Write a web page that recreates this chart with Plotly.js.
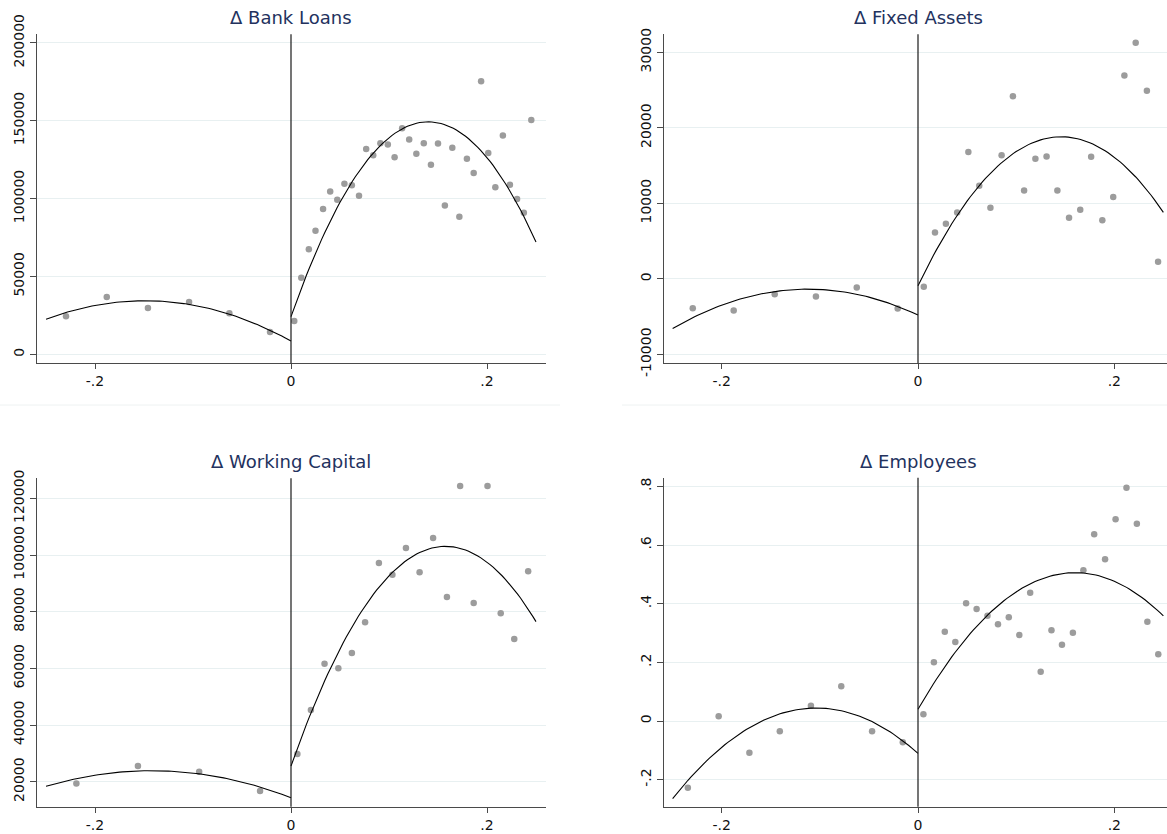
<!DOCTYPE html>
<html><head><meta charset="utf-8">
<script src="https://cdn.plot.ly/plotly-3.0.1.min.js"></script>
<style>html,body{margin:0;padding:0;background:#fff}#chart{width:1167px;height:834px}</style>
</head><body><div id="chart"></div>
<script>
// ---------- data (binned means) ----------
const panelTitles = ['\u0394 Bank Loans', '\u0394 Fixed Assets', '\u0394 Working Capital', '\u0394 Employees'];

const xTickVals = [-0.2, 0, 0.2];
const xTickText = ['-.2', '0', '.2'];

const bankLeftX = [-0.2296, -0.188, -0.146, -0.104, -0.0629, -0.0214];
const bankLeftY = [24400, 36800, 29700, 33600, 26300, 14300];
const bankRightX = [0.0033,0.0105,0.0182,0.025,0.0327,0.04,0.0472,0.0545,0.0621,0.0694,0.0767,0.0839,0.0912,0.0988,0.1057,0.1134,0.1206,0.1279,0.1355,0.1428,0.150,0.157,0.1646,0.1718,0.1795,0.1864,0.194,0.2013,0.2085,0.2162,0.2234,0.2307,0.2376,0.2452];
const bankRightY = [21400,49200,67400,79400,93300,104600,99300,109500,108500,101800,131800,127900,135600,134800,126600,145200,138000,128800,135600,121700,135400,95600,132600,88300,125600,116400,175400,129200,107200,140500,108900,99700,90900,150400];
const bankTickVals = [0, 50000, 100000, 150000, 200000];
const bankTickText = ['0', '50000', '100000', '150000', '200000'];

const faLeftX = [-0.2295, -0.1878, -0.146, -0.104, -0.0624, -0.0207];
const faLeftY = [-3900, -4190, -2030, -2340, -1150, -3930];
const faRightX = [0.0059,0.0173,0.0284,0.0399,0.0513,0.0624,0.0738,0.0852,0.0967,0.1081,0.1196,0.131,0.142,0.1539,0.1653,0.1764,0.1878,0.1989,0.2103,0.2218,0.2332,0.2446];
const faRightY = [-1060,6140,7280,8790,16780,12320,9400,16380,24190,11700,15890,16200,11700,8080,9140,16160,7770,10820,26930,31260,24900,2250];
const faTickVals = [-10000, 0, 10000, 20000, 30000];
const faTickText = ['-10000', '0', '10000', '20000', '30000'];

const wcLeftX = [-0.219, -0.1562, -0.0937, -0.0316];
const wcLeftY = [19410, 25530, 23530, 16710];
const wcRightX = [0.0065,0.0203,0.0342,0.0483,0.0621,0.0756,0.0897,0.1035,0.1173,0.1312,0.145,0.1591,0.1726,0.1864,0.2005,0.214,0.2278,0.242];
const wcRightY = [29760,45290,61650,60000,65410,76240,97180,93060,102470,93880,106000,85180,124350,83060,124350,79410,70350,94240];
const wcTickVals = [20000, 40000, 60000, 80000, 100000, 120000];
const wcTickText = ['20000', '40000', '60000', '80000', '100000', '120000'];

const emLeftX = [-0.2345, -0.2031, -0.1718, -0.1408, -0.1091, -0.0782, -0.0468, -0.0155];
const emLeftY = [-0.2273, 0.0159, -0.108, -0.0352, 0.0523, 0.1182, -0.0352, -0.0727];
const emRightX = [0.0055,0.0162,0.0273,0.038,0.049,0.0597,0.0708,0.0815,0.0925,0.1032,0.1143,0.125,0.136,0.1467,0.1578,0.1685,0.1795,0.1906,0.2013,0.2124,0.223,0.2337,0.2448];
const emRightY = [0.0227,0.2,0.3045,0.2693,0.4011,0.3818,0.3591,0.3295,0.3534,0.2932,0.4375,0.1682,0.3091,0.2602,0.3011,0.5136,0.6364,0.5511,0.6875,0.7955,0.6727,0.3386,0.2273];
const emTickVals = [-0.2, 0, 0.2, 0.4, 0.6, 0.8];
const emTickText = ['-.2', '0', '.2', '.4', '.6', '.8'];

// quadratic fits: [x of vertex, y of vertex, curvature]
const bankFitLeft = [-0.149, 34400, -1165000];
const bankFitRight = [0.14, 149300, -6383000];
const faFitLeft = [-0.112, -1370, -274000];
const faFitRight = [0.146, 18810, -925000];
const wcFitLeft = [-0.142, 23880, -472600];
const wcFitRight = [0.1577, 103060, -3117500];
const emFitLeft = [-0.1036, 0.0443, -14.4];
const emFitRight = [0.16, 0.5057, -18.2];
const fitSpan = [-0.25, 0, 0.25];

// ---------- drawing ----------
const W = 1167, H = 834;
const px = v => v / W;
const py = v => 1 - v / H;

function fitCurve(coef, x0, x1) {
  const xs = [], ys = [];
  const n = 80;
  for (let i = 0; i <= n; i++) {
    const x = x0 + (x1 - x0) * i / n;
    xs.push(x);
    ys.push(coef[1] + coef[2] * (x - coef[0]) * (x - coef[0]));
  }
  return {xs, ys};
}

const markerStyle = {color: '#9c9c9c', size: 6.5};
const lineStyle = {color: '#000000', width: 1.1};

const panels = [
  {lx: bankLeftX, ly: bankLeftY, rx: bankRightX, ry: bankRightY, fl: bankFitLeft, fr: bankFitRight},
  {lx: faLeftX, ly: faLeftY, rx: faRightX, ry: faRightY, fl: faFitLeft, fr: faFitRight},
  {lx: wcLeftX, ly: wcLeftY, rx: wcRightX, ry: wcRightY, fl: wcFitLeft, fr: wcFitRight},
  {lx: emLeftX, ly: emLeftY, rx: emRightX, ry: emRightY, fl: emFitLeft, fr: emFitRight}
];

const traces = [];
panels.forEach((p, i) => {
  const xa = i === 0 ? 'x' : 'x' + (i + 1);
  const ya = i === 0 ? 'y' : 'y' + (i + 1);
  traces.push({type: 'scatter', mode: 'markers', x: p.lx, y: p.ly, xaxis: xa, yaxis: ya, marker: markerStyle, hoverinfo: 'skip'});
  traces.push({type: 'scatter', mode: 'markers', x: p.rx, y: p.ry, xaxis: xa, yaxis: ya, marker: markerStyle, hoverinfo: 'skip'});
  const cl = fitCurve(p.fl, fitSpan[0], fitSpan[1]);
  const cr = fitCurve(p.fr, fitSpan[1], fitSpan[2]);
  traces.push({type: 'scatter', mode: 'lines', x: cl.xs, y: cl.ys, xaxis: xa, yaxis: ya, line: lineStyle, hoverinfo: 'skip'});
  traces.push({type: 'scatter', mode: 'lines', x: cr.xs, y: cr.ys, xaxis: xa, yaxis: ya, line: lineStyle, hoverinfo: 'skip'});
});

const tickFont = {family: 'DejaVu Sans, sans-serif', size: 14, color: '#111111'};
const axisColor = '#4a4a4a';

function xAxis(domain, range, anchor) {
  return {domain, range, anchor, tickmode: 'array', tickvals: xTickVals, ticktext: xTickText,
    showgrid: false, zeroline: false, showline: true, linecolor: axisColor, linewidth: 1,
    ticks: 'outside', ticklen: 5, tickwidth: 1, tickcolor: axisColor, tickfont: tickFont, fixedrange: true};
}
function yAxis(domain, range, anchor, vals, text) {
  return {domain, range, anchor, tickmode: 'array', tickvals: vals, ticktext: text, tickangle: -90,
    showgrid: true, gridcolor: '#e8f0f1', gridwidth: 1, zeroline: false, showline: true, linecolor: axisColor, linewidth: 1,
    ticks: 'outside', ticklen: 6, tickwidth: 1, tickcolor: axisColor, tickfont: tickFont, fixedrange: true};
}

const leftDom = [px(36.7), px(545.7)];
const rightDom = [px(664), 1];
const topDom = [py(363.3), py(34.3)];
const botDom = [py(806.7), py(478.3)];

const vline = color => ({color: color, width: 1.2});

const layout = {
  width: W, height: H,
  margin: {l: 0, r: 0, t: 0, b: 0},
  paper_bgcolor: '#ffffff', plot_bgcolor: 'rgba(0,0,0,0)',
  showlegend: false,
  xaxis: xAxis(leftDom, [-0.2595, 0.2599], 'y'),
  yaxis: yAxis(topDom, [-5780, 205500], 'x', bankTickVals, bankTickText),
  xaxis2: xAxis(rightDom, [-0.2588, 0.2537], 'y2'),
  yaxis2: yAxis(topDom, [-11192, 32384], 'x2', faTickVals, faTickText),
  xaxis3: xAxis(leftDom, [-0.2595, 0.2599], 'y3'),
  yaxis3: yAxis(botDom, [11180, 127080], 'x3', wcTickVals, wcTickText),
  xaxis4: xAxis(rightDom, [-0.2588, 0.2537], 'y4'),
  yaxis4: yAxis([py(806.7), py(477.7)], [-0.2921, 0.8294], 'x4', emTickVals, emTickText),
  shapes: [
    {type: 'line', xref: 'x', yref: 'y domain', x0: 0, x1: 0, y0: 0, y1: 1, line: vline('#1a1a1a')},
    {type: 'line', xref: 'x2', yref: 'y2 domain', x0: 0, x1: 0, y0: 0, y1: 1, line: vline('#1a1a1a')},
    {type: 'line', xref: 'x3', yref: 'y3 domain', x0: 0, x1: 0, y0: 0, y1: 1, line: vline('#1a1a1a')},
    {type: 'line', xref: 'x4', yref: 'y4 domain', x0: 0, x1: 0, y0: 0, y1: 1, line: vline('#1a1a1a')},
    {type: 'line', xref: 'paper', yref: 'paper', x0: 0, x1: px(560), y0: py(405), y1: py(405), line: {color: '#eef2f2', width: 1}},
    {type: 'line', xref: 'paper', yref: 'paper', x0: px(622), x1: 1, y0: py(405), y1: py(405), line: {color: '#eef2f2', width: 1}}
  ],
  annotations: [
    {text: panelTitles[0], x: px(291), y: py(18)},
    {text: panelTitles[1], x: px(918), y: py(18)},
    {text: panelTitles[2], x: px(291), y: py(461)},
    {text: panelTitles[3], x: px(918), y: py(461)}
  ].map(a => Object.assign(a, {xref: 'paper', yref: 'paper', xanchor: 'center', yanchor: 'middle', showarrow: false,
    font: {family: 'DejaVu Sans, sans-serif', size: 18, color: '#23325e'}}))
};

Plotly.newPlot('chart', traces, layout, {displayModeBar: false, staticPlot: true});
</script></body></html>
